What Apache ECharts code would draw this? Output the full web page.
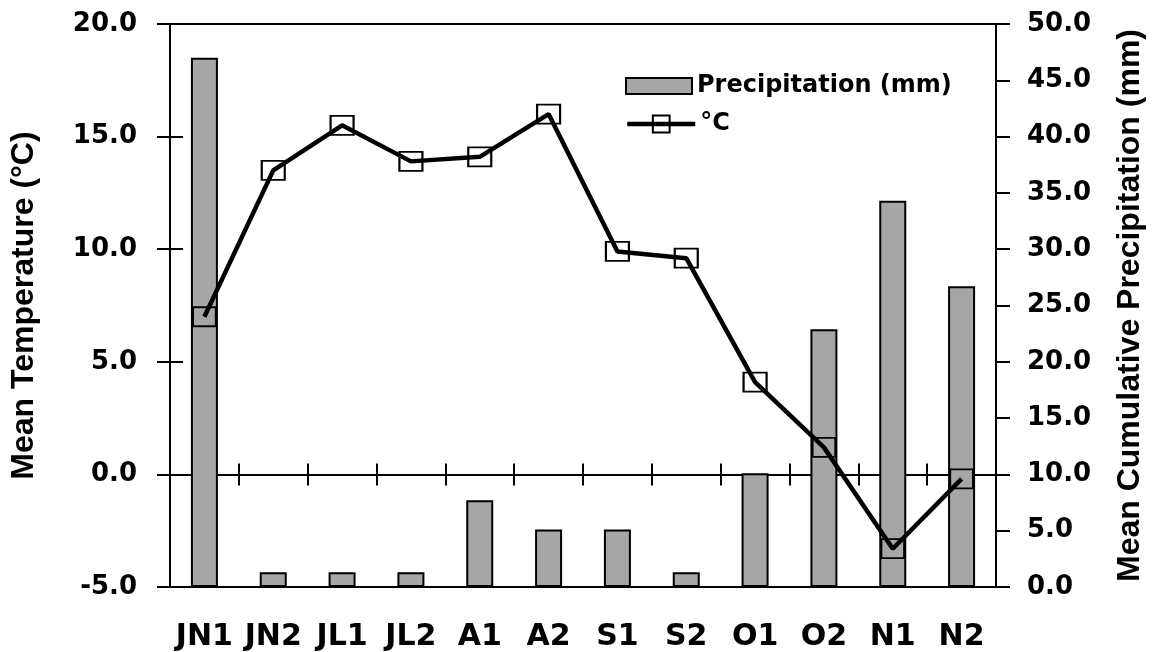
<!DOCTYPE html>
<html>
<head>
<meta charset="utf-8">
<script src="https://cdn.jsdelivr.net/npm/echarts@6/dist/echarts.min.js"></script>
<style>
  html, body { margin: 0; padding: 0; background: #ffffff; }
  #chart { width: 1152px; height: 652px; }
</style>
</head>
<body>
<div id="chart"></div>
<script>
const categories = ['JN1', 'JN2', 'JL1', 'JL2', 'A1', 'A2', 'S1', 'S2', 'O1', 'O2', 'N1', 'N2'];
const precipitation = [47.0, 1.3, 1.3, 1.3, 7.7, 5.1, 5.1, 1.3, 10.1, 22.9, 34.3, 26.7];
const temperature = [7.0, 13.5, 15.5, 13.9, 14.1, 16.0, 9.9, 9.6, 4.1, 1.2, -3.3, -0.2];
const tempTicks = { min: -5, max: 20, interval: 5 };
const precTicks = { min: 0, max: 50, interval: 5 };

const tickFont = { fontFamily: 'DejaVu Sans', fontWeight: 'bold', fontSize: 26, color: '#000' };
const titleFont = { fontFamily: 'Liberation Sans', fontWeight: 'bold', fontSize: 32, color: '#000' };
const legendFont = { fontFamily: 'DejaVu Sans', fontWeight: 'bold', fontSize: 24, color: '#000' };
const black2 = { color: '#000', width: 2 };
const gridRect = { left: 170, right: 156, top: 24, bottom: 65, outerBoundsMode: 'none', containLabel: false };

const chart = echarts.init(document.getElementById('chart'), null, { renderer: 'canvas' });
chart.setOption({
  animation: false,
  backgroundColor: '#ffffff',
  grid: [
    Object.assign({ show: true, borderColor: '#000', borderWidth: 2, backgroundColor: 'transparent' }, gridRect),
    Object.assign({ show: false }, gridRect)
  ],
  legend: [
    {
      orient: 'vertical', left: 620, top: 69,
      itemWidth: 66, itemHeight: 16,
      textStyle: legendFont,
      data: [{ name: 'Precipitation (mm)', icon: 'rect' }]
    },
    {
      orient: 'vertical', left: 620, top: 107,
      itemWidth: 68, itemHeight: 21,
      textStyle: legendFont,
      lineStyle: { width: 4.5, color: '#000' },
      data: ['°C']
    }
  ],
  xAxis: [
    {
      gridIndex: 0, type: 'category', data: categories, position: 'bottom',
      axisLine: { show: true, onZero: false, lineStyle: black2 },
      axisTick: { show: false },
      axisLabel: { interval: 0, hideOverlap: false, fontFamily: 'DejaVu Sans', fontWeight: 'bold', fontSize: 30, color: '#000', margin: 35 },
      splitLine: { show: false }
    },
    {
      gridIndex: 0, type: 'category', data: categories, position: 'top',
      axisLine: { show: true, onZero: true, onZeroAxisIndex: 0, lineStyle: black2 },
      axisTick: { show: true, interval: 0, length: 11, lineStyle: black2 },
      axisLabel: { show: false },
      splitLine: { show: false }
    },
    {
      gridIndex: 1, type: 'category', data: categories, position: 'bottom',
      axisLine: { show: true, onZero: true, lineStyle: black2 },
      axisTick: { show: true, interval: 0, length: 11, lineStyle: black2 },
      axisLabel: { show: false },
      splitLine: { show: false }
    }
  ],
  yAxis: [
    {
      gridIndex: 0, type: 'value', position: 'left',
      min: tempTicks.min, max: tempTicks.max, interval: tempTicks.interval,
      axisLine: { show: true, lineStyle: black2 },
      axisTick: { show: true, length: 13, lineStyle: black2 },
      axisLabel: Object.assign({ margin: 33, formatter: v => v.toFixed(1) }, tickFont),
      splitLine: { show: false },
      name: 'Mean Temperature (°C)',
      nameLocation: 'middle', nameRotate: 90, nameGap: 130,
      nameTextStyle: titleFont
    },
    {
      gridIndex: 0, type: 'value', position: 'right',
      min: precTicks.min, max: precTicks.max, interval: precTicks.interval,
      axisLine: { show: true, lineStyle: black2 },
      axisTick: { show: true, length: 14, lineStyle: black2 },
      axisLabel: Object.assign({ margin: 31, formatter: v => v.toFixed(1) }, tickFont),
      splitLine: { show: false },
      name: 'Mean Cumulative Precipitation (mm)',
      nameLocation: 'middle', nameRotate: 90, nameGap: 118,
      nameTextStyle: titleFont
    },
    {
      gridIndex: 1, type: 'value', position: 'left',
      min: tempTicks.min, max: tempTicks.max, interval: tempTicks.interval,
      axisLine: { show: false },
      axisTick: { show: true, inside: true, length: 13, lineStyle: black2 },
      axisLabel: { show: false },
      splitLine: { show: false }
    }
  ],
  series: [
    {
      name: 'Precipitation (mm)',
      type: 'bar',
      xAxisIndex: 0, yAxisIndex: 1,
      data: precipitation,
      barWidth: 27,
      itemStyle: { color: '#a6a6a6', borderColor: '#000', borderWidth: 2 },
      emphasis: { disabled: true },
      z: 2
    },
    {
      name: '°C',
      type: 'line',
      xAxisIndex: 0, yAxisIndex: 0,
      data: temperature,
      symbol: 'rect',
      symbolSize: [23, 19],
      itemStyle: { color: 'rgba(0,0,0,0)', borderColor: '#000', borderWidth: 2 },
      lineStyle: { color: '#000', width: 4.5 },
      emphasis: { disabled: true },
      z: 3
    }
  ]
});
</script>
</body>
</html>
